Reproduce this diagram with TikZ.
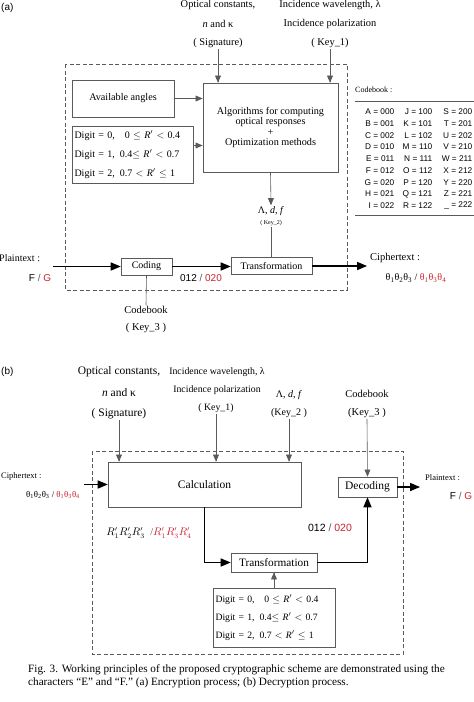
\documentclass[tikz,border=0pt]{standalone}
\usepackage{fontspec}
\setmainfont{Liberation Serif}
\setsansfont{Liberation Sans}
\usepackage{amsmath}
\usepackage{tikz}
\usetikzlibrary{shapes,arrows}
\usetikzlibrary{positioning}
\definecolor{cred}{RGB}{200,35,45}
\definecolor{lgray}{RGB}{90,90,90}
\newcommand{\fsz}[1]{\fontsize{#1}{#1}\selectfont}
\newcommand{\rp}{\textit{R}$^{\prime}$}

\begin{document}
\begin{tikzpicture}[x=1pt,y=-1pt,
every node/.style = {inner sep=1pt},
blk/.style   = {draw=lgray,line width=0.7pt,inner sep=0pt},
thinarr/.style = {draw=lgray,line width=0.6pt,-triangle 45},
thinln/.style  = {draw=lgray,line width=0.6pt},
flow/.style  = {draw=black,line width=1.3pt,-triangle 45},
dashbox/.style = {draw=lgray,line width=0.7pt,dash pattern=on 4pt off 2.5pt},
cbk/.style   = {font=\sffamily\fsz{8.3},anchor=east}]
\useasboundingbox (0,0) rectangle (474,702);

% ---------------- (a) encryption
\node[anchor=west,font=\sffamily\fsz{10}] (tagA) at (0,8) {(a)};

\node[font=\fsz{10.4}] (sigA1) at (218,5)  {Optical constants,};
\node[font=\fsz{10.4}] (sigA2) at (218,24) {\textit{n} and κ};
\node[font=\fsz{10.4}] (sigA3) at (218,43) {( Signature)};
\node[font=\fsz{10.4}] (keyA1) at (330,5)  {Incidence wavelength, λ};
\node[font=\fsz{10.4}] (keyA2) at (330,24) {Incidence polarization};
\node[font=\fsz{10.4}] (keyA3) at (330,43) {( Key\_1)};

\draw[dashbox] (65,64) rectangle (347,290);

\node[blk,minimum width=102pt,minimum height=37pt,font=\fsz{10.2}]
      (avail) at (123,98.5) {Available angles};
\node[blk,minimum width=135pt,minimum height=89pt,align=center,
      font=\fsz{10.2}] (algo) at (270.5,127.5)
      {Algorithms for computing\\optical responses\\+\\Optimization methods};
\node[blk,text width=116pt,inner xsep=2.5pt,minimum height=57pt,align=left,
      font=\fontsize{10}{19}\selectfont] (digitA) at (132.5,154.5)
      {Digit = 0,\quad 0 $\le$ \rp{} $<$ 0.4\\
       Digit = 1,\, 0.4$\le$ \rp{} $<$ 0.7\\
       Digit = 2,\, 0.7 $<$ \rp{} $\le$ 1};

\draw[thinarr] (sigA3.south) -- (sigA3.south |- algo.north);
\draw[thinarr] (keyA3.south) -- (keyA3.south |- algo.north);
\draw[thinarr] (avail.east) -- (avail.east -| algo.west);
\draw[thinarr] ([yshift=9pt]digitA.east) -- ([yshift=9pt]digitA.east -| algo.west);

\node[font=\fsz{10}] (lamA) at (271,211) {Λ, \textit{d}, \textit{f}};
\node[font=\fsz{6},below=2pt of lamA] (keyA4) {( Key\_2)};
\draw[thinarr] (algo.south) -- (lamA.north);

\node[blk,minimum width=51pt,minimum height=17pt,font=\fsz{10}]
      (coding) at (146.5,266.5) {Coding};
\node[blk,minimum width=81pt,minimum height=17pt,font=\fsz{10}]
      (transA) at (271.5,266) {Transformation};
\draw[thinln] (keyA4.south) -- (keyA4.south |- transA.north);

\node[anchor=west,font=\fsz{10}] (plainA) at (-2,258) {Plaintext :};
\node[font=\sffamily\fsz{10}] (fgA) at (40,278) {F {\color{lgray}/} {\color{cred}G}};
\coordinate (inA) at (53,266.5);
\coordinate (outA) at (367,266);
\draw[flow] (inA) -- (coding.west);
\draw[flow] (coding.east) -- (coding.east -| transA.west);
\draw[flow] (transA.east) -- (outA);
\node[font=\sffamily\fsz{10}] (numA) at (201,278) {012 {\color{lgray}/} {\color{cred}020}};

\node[anchor=west,font=\fsz{10.5}] (cipA) at (369,258) {Ciphertext :};
\node[font=\fsz{10}] (thA) at (416,278)
      {θ\textsubscript{1}θ\textsubscript{2}θ\textsubscript{3} / {\color{cred}θ\textsubscript{1}θ\textsubscript{3}θ\textsubscript{4}}};

\node[font=\fsz{10.5}] (cbA) at (146,310) {Codebook};
\node[font=\fsz{10.5}] (keyA5) at (146,328) {( Key\_3 )};
\draw[thinln] (cbA.north) -- (coding.south);

% codebook table
\node[anchor=west,font=\fsz{8}] (cbt) at (354,90) {Codebook :};
\draw[thinln] (355,101) -- (474,101);
\draw[thinln] (355,215) -- (474,215);
\foreach \a/\b/\c [count=\i from 0] in {
  A = 000/J = 100/S = 200, B = 001/K = 101/T = 201, C = 002/L = 102/U = 202,
  D = 010/M = 110/V = 210, E = 011/N = 111/W = 211, F = 012/O = 112/X = 212,
  G = 020/P = 120/Y = 220, H = 021/Q = 121/Z = 221, I = 022/R = 122/\_ = 222}{
  \node[cbk] (cbc1\i) at (395.5,{111.7+11.76*\i}) {\a};
  \node[cbk] (cbc2\i) at (433.5,{111.7+11.76*\i}) {\b};
  \node[cbk] (cbc3\i) at (473.5,{111.7+11.76*\i}) {\c};
}

% ---------------- (b) decryption
\node[anchor=west,font=\sffamily\fsz{10}] (tagB) at (0,372) {(b)};

\node[font=\fsz{11.5}] (sigB1) at (119,372) {Optical constants,};
\node[font=\fsz{11.5}] (sigB2) at (119,393) {\textit{n} and κ};
\node[font=\fsz{11.5}] (sigB3) at (119,414) {( Signature)};
\node[font=\fsz{9.8}] (keyB1) at (217,372) {Incidence wavelength, λ};
\node[font=\fsz{9.8}] (keyB2) at (217,390) {Incidence polarization};
\node[font=\fsz{9.8}] (keyB3) at (216,408) {( Key\_1)};
\node[font=\fsz{10}] (lamB) at (289,395) {Λ, \textit{d}, \textit{f}};
\node[font=\fsz{10}] (keyB4) at (289,413) {(Key\_2 )};
\node[font=\fsz{10.5}] (cbB) at (367,394) {Codebook};
\node[font=\fsz{10.5}] (keyB5) at (367,413) {(Key\_3 )};

\draw[dashbox] (92,451) rectangle (403,654);

\node[blk,minimum width=193pt,minimum height=45pt,font=\fsz{11.5}]
      (calc) at (204.5,484.5) {Calculation};
\node[blk,minimum width=59pt,minimum height=20pt,font=\fsz{11.5}]
      (decod) at (367.5,487) {Decoding};
\node[blk,minimum width=86pt,minimum height=19pt,font=\fsz{11.3}]
      (transB) at (274,562.5) {Transformation};
\node[blk,text width=117pt,inner xsep=2.5pt,minimum height=59pt,align=left,
      font=\fontsize{9.7}{18}\selectfont] (digitB) at (274,617.5)
      {Digit = 0,\quad 0 $\le$ \rp{} $<$ 0.4\\
       Digit = 1,\, 0.4$\le$ \rp{} $<$ 0.7\\
       Digit = 2,\, 0.7 $<$ \rp{} $\le$ 1};

\draw[thinarr] (sigB3.south) -- (sigB3.south |- calc.north);
\draw[thinarr] (keyB3.south) -- (keyB3.south |- calc.north);
\draw[thinarr] (keyB4.south) -- (keyB4.south |- calc.north);
\draw[thinarr] (keyB5.south) -- (decod.north);
\draw[thinarr] (digitB.north) -- (transB.south);

\node[anchor=west,font=\fsz{8.5}] (cipB) at (0,476) {Ciphertext :};
\node[font=\fsz{8.8}] (thB) at (53,495)
      {θ\textsubscript{1}θ\textsubscript{2}θ\textsubscript{3} / {\color{cred}θ\textsubscript{1}θ\textsubscript{3}θ\textsubscript{4}}};
\coordinate (inB) at (84,484.5);
\coordinate (outB) at (420,487);
\draw[flow] (inB) -- (calc.west);
\draw[flow] (calc.south) |- (transB.west);
\draw[flow] (transB.east) -| (decod.south);
\draw[flow] (decod.east) -- (outB);

\node[anchor=west,font=\fsz{8.5}] (plainB) at (424,478) {Plaintext :};
\node[font=\sffamily\fsz{10}] (fgB) at (461,496) {F {\color{lgray}/} {\color{cred}G}};

\node[font=\fsz{10.5}] (rB) at (149,533)
      {$R'_1R'_2R'_3$\; {\color{lgray}/}{\color{cred}$R'_1R'_3R'_4$}};
\node[font=\sffamily\fsz{10.5}] (numB) at (330,528) {012 {\color{lgray}/} {\color{cred}020}};

% caption
\node[anchor=west,font=\fsz{11.2}] (cap1) at (27,670)
      {Fig. 3. Working principles of the proposed cryptographic scheme are demonstrated using the};
\node[anchor=west,font=\fsz{11.2}] (cap2) at (27,683)
      {characters “E” and “F.” (a) Encryption process; (b) Decryption process.};
\end{tikzpicture}
\end{document}
